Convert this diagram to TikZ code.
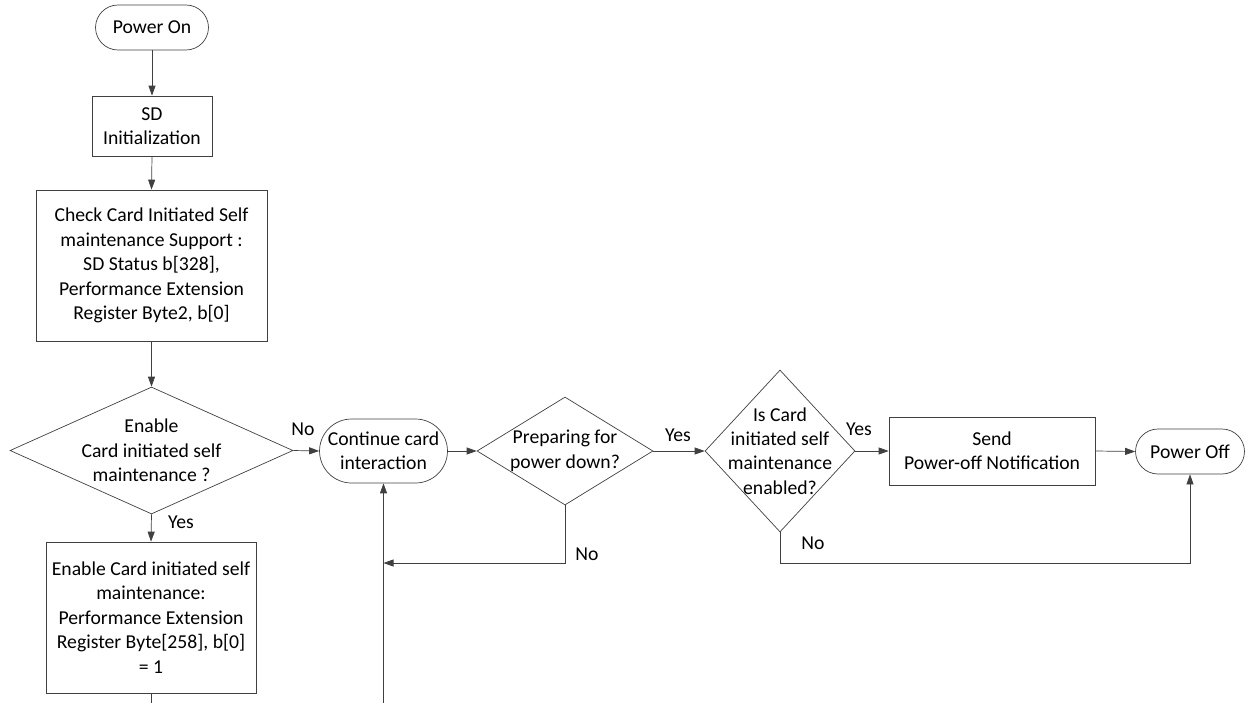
\documentclass[tikz,border=0pt]{standalone}
\usepackage{fontspec}
\setmainfont{Carlito}
\usetikzlibrary{shapes.geometric, shapes.misc, arrows.meta}
\definecolor{linegray}{HTML}{404040}

\begin{document}
\begin{tikzpicture}[
    x=0.02cm, y=-0.02cm,
    every node/.style={font=\fontsize{11.2pt}{13.9pt}\selectfont, align=center, text=black},
    block/.style={rectangle, draw=linegray, inner sep=2pt},
    term/.style={rounded rectangle, draw=linegray, inner sep=2pt},
    decide/.style={diamond, draw=linegray, inner sep=-0.5cm},
    arr/.style={-{Triangle[length=0.2cm, width=0.14cm]}, draw=linegray},
]
    \useasboundingbox (0,0) rectangle (1250,703);
    \node[term] (pon) at (152, 27.5) [minimum width=2.4cm, minimum height=0.9cm] {Power On};
    \node[block] (sdinit) at (152, 126) [minimum width=2.4cm, minimum height=1.2cm] {SD\\ Initialization};
    \node[block] (check) at (151.5, 265.5) [minimum width=4.62cm, minimum height=3.02cm]
        {Check Card Initiated Self\\ maintenance Support :\\ SD Status b[328],\\ Performance Extension\\ Register Byte2, b[0]};
    \node[decide] (enchk) at (151.5, 450.5) [minimum width=5.66cm, minimum height=2.54cm]
        {Enable\\ Card initiated self\\ maintenance ?};
    \node[block] (enable) at (151, 617.5) [minimum width=4.2cm, minimum height=3.02cm]
        {Enable Card initiated self\\ maintenance:\\ Performance Extension\\ Register Byte[258], b[0]\\ = 1};
    \node[term] (cont) at (383.5, 451) [minimum width=2.7cm, minimum height=1.28cm] {Continue card\\ interaction};
    \node[decide] (prep) at (565, 451) [minimum width=3.52cm, minimum height=2.16cm] {Preparing for\\ power down?};
    \node[decide] (isen) at (780, 451) [minimum width=3.0cm, minimum height=3.24cm]
        {Is Card\\ initiated self\\ maintenance\\ enabled?};
    \node[block] (send) at (992, 451) [minimum width=4.12cm, minimum height=1.36cm] {Send\\ Power-off Notification};
    \node[term] (poff) at (1190, 451.5) [minimum width=2.32cm, minimum height=0.9cm] {Power Off};
    \coordinate (encut) at (151, 703);
    \coordinate (contcut) at (383.5, 703);
    \coordinate (join) at (383.5, 563);
    \draw[arr] (pon.south) -- (sdinit.north);
    \draw[arr] (sdinit.south) -- (check.north);
    \draw[arr] (check.south) -- (enchk.north);
    \draw[arr] (enchk.south) -- (enable.north);
    \draw[draw=linegray] (enable.south) -- (encut);
    \draw[arr] (enchk.east) -- (cont.west);
    \draw[arr] (cont.east) -- (prep.west);
    \draw[arr] (prep.east) -- (isen.west);
    \draw[arr] (isen.east) -- (send.west);
    \draw[arr] (send.east) -- (poff.west);
    \draw[arr] (prep.south) |- (join);
    \draw[arr] (contcut) -- (cont.south);
    \draw[arr] (isen.south) -- (isen.south |- join) -| (poff.south);
    \node (lno1) at (303, 429) {No};
    \node (lyes1) at (181, 522) {Yes};
    \node (lyes2) at (678, 435) {Yes};
    \node (lno2) at (587, 554) {No};
    \node (lyes3) at (859, 429) {Yes};
    \node (lno3) at (813, 543) {No};
\end{tikzpicture}
\end{document}
